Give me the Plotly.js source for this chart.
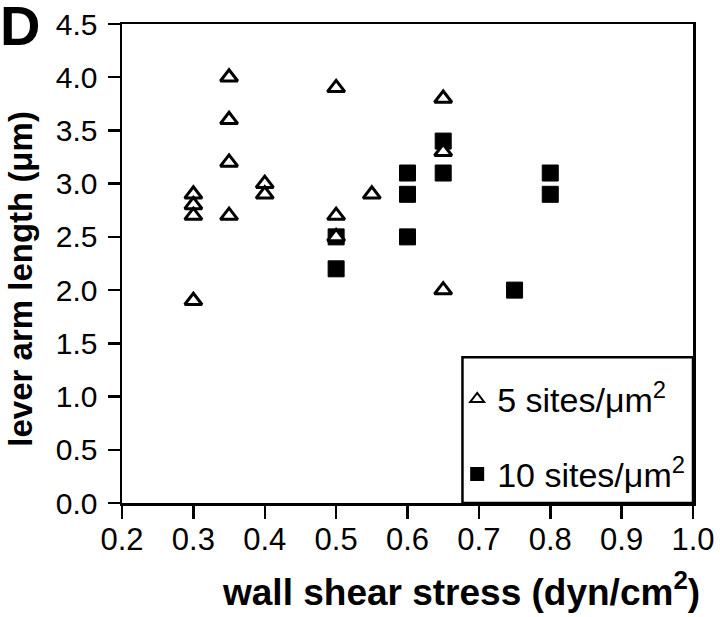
<!DOCTYPE html>
<html>
<head>
<meta charset="utf-8">
<script src="https://cdn.plot.ly/plotly-3.0.1.min.js"></script>
<style>html,body{margin:0;padding:0;background:#fff;}#chart{width:720px;height:617px;}</style>
</head>
<body>
<div id="chart"></div>
<script>
// 5 sites/um^2 (open triangles)
const stress5 = [0.3, 0.3, 0.3, 0.3, 0.35, 0.35, 0.35, 0.35, 0.4, 0.4, 0.5, 0.5, 0.5, 0.55, 0.65, 0.65, 0.65];
const lever5  = [2.9, 2.8, 2.7, 1.9, 4.0, 3.6, 3.2, 2.7, 3.0, 2.9, 3.9, 2.7, 2.5, 2.9, 3.8, 3.3, 2.0];
// 10 sites/um^2 (filled squares)
const stress10 = [0.5, 0.5, 0.6, 0.6, 0.6, 0.65, 0.65, 0.75, 0.8, 0.8];
const lever10  = [2.5, 2.2, 3.1, 2.9, 2.5, 3.4, 3.1, 2.0, 3.1, 2.9];
const xTicks = [0.2, 0.3, 0.4, 0.5, 0.6, 0.7, 0.8, 0.9, 1.0];
const yTicks = [0.0, 0.5, 1.0, 1.5, 2.0, 2.5, 3.0, 3.5, 4.0, 4.5];
const seriesNames = ['5 sites/\u03bcm<sup>2</sup>', '10 sites/\u03bcm<sup>2</sup>'];

const FONT = 'Liberation Sans, Arial, Helvetica, sans-serif';

const traces = [
  {
    x: stress10, y: lever10, type: 'scatter', mode: 'markers', name: seriesNames[1],
    legendgroup: 'b', legendrank: 2,
    marker: {symbol: 'square', size: 16, color: '#000', line: {color: '#000', width: 1}}
  },
  {
    x: stress5, y: lever5, type: 'scatter', mode: 'markers', name: seriesNames[0],
    legendgroup: 'a', legendrank: 1,
    marker: {symbol: 'triangle-up', size: 15, color: '#fff', line: {color: '#000', width: 3}}
  }
];

const layout = {
  width: 720, height: 617,
  margin: {l: 122, r: 27, t: 23.5, b: 114, pad: 0},
  paper_bgcolor: '#fff', plot_bgcolor: '#fff',
  showlegend: true,
  font: {family: FONT, color: '#000'},
  xaxis: {
    range: [0.2, 1.0], tickvals: xTicks, tickformat: '.1f',
    showgrid: false, zeroline: false,
    showline: true, linecolor: '#000', linewidth: 2.5, mirror: true,
    ticks: 'outside', ticklen: 13, tickwidth: 2.5, tickcolor: '#000',
    tickfont: {family: FONT, size: 31, color: '#000'},
    ticklabelstandoff: -6
  },
  yaxis: {
    range: [0, 4.5], tickvals: yTicks, tickformat: '.1f',
    showgrid: false, zeroline: false,
    showline: true, linecolor: '#000', linewidth: 2.5, mirror: true,
    ticks: 'outside', ticklen: 12, tickwidth: 2.5, tickcolor: '#000',
    tickfont: {family: FONT, size: 30, color: '#000'},
    ticklabelstandoff: 4
  },
  legend: {
    x: 0.587, y: 0.277, xanchor: 'left', yanchor: 'top',
    bgcolor: 'rgba(0,0,0,0)', borderwidth: 0,
    traceorder: 'grouped', tracegroupgap: 28,
    font: {family: FONT, size: 34, color: '#000'},
    itemsizing: 'constant'
  },
  shapes: [
    {type: 'rect', xref: 'x', yref: 'y', x0: 0.677, x1: 1.0, y0: 0, y1: 1.37,
     line: {color: '#000', width: 2.5}, fillcolor: '#fff', layer: 'below'}
  ],
  annotations: [
    {text: '<b>D</b>', xref: 'paper', yref: 'paper', x: -0.216, y: 0.996, xanchor: 'left', yanchor: 'middle',
     showarrow: false, borderpad: 0, font: {family: FONT, size: 56, color: '#000'}},
    {text: '<b>wall shear stress (dyn/cm<sup>2</sup>)</b>', xref: 'paper', yref: 'paper',
     x: 0.594, y: -0.181, xanchor: 'center', yanchor: 'middle', showarrow: false,
     font: {family: FONT, size: 37, color: '#000'}},
    {text: '<b>lever arm length (\u03bcm)</b>', xref: 'paper', yref: 'paper', textangle: -90,
     x: -0.178, y: 0.469, xanchor: 'center', yanchor: 'middle', showarrow: false,
     font: {family: FONT, size: 33, color: '#000'}}
  ]
};

Plotly.newPlot('chart', traces, layout, {staticPlot: true, displayModeBar: false});
</script>
</body>
</html>
